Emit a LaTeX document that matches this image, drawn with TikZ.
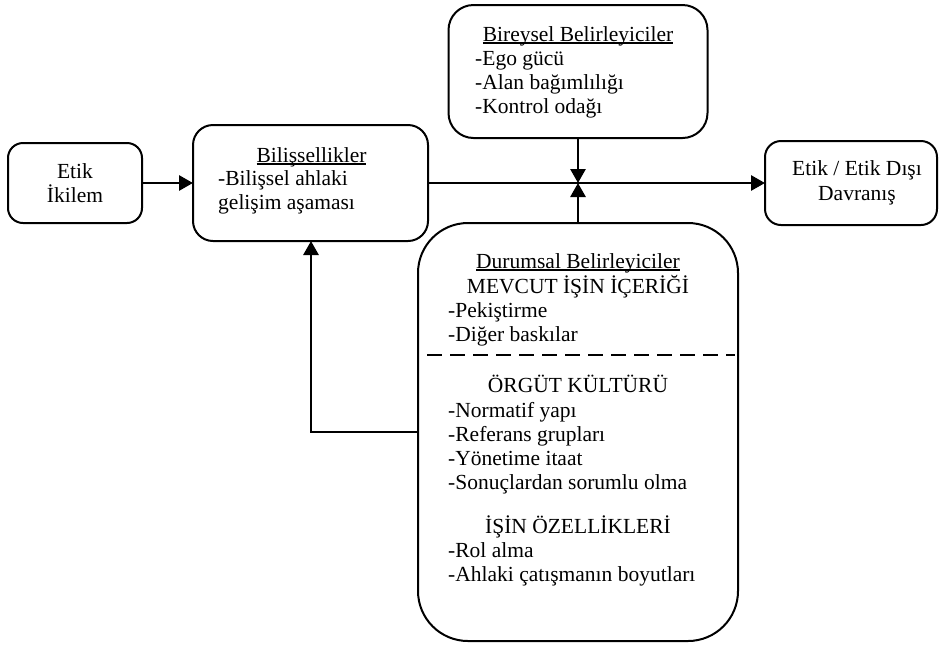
\documentclass[tikz,border=0pt]{standalone}
\usepackage{fontspec}
\setmainfont{Liberation Serif}
\usetikzlibrary{arrows.meta}

% underline sitting just below the baseline
\newcommand{\hdline}[1]{\setbox0\hbox{#1}\rlap{\rule[-2.6pt]{\wd0}{1.3pt}}\box0}

\tikzset{
  box/.style={draw, line width=2pt, outer sep=0pt, inner sep=0pt},
  conn/.style={line width=2.8pt, -{Triangle[length=14pt,width=15pt]}},
  txt/.style={inner sep=0pt, font=\fontsize{21.5}{25}\selectfont},
  lft/.style={txt, anchor=base west},
  ctr/.style={txt, anchor=base}
}

\begin{document}
\begin{tikzpicture}[x=1pt,y=-1pt]
\useasboundingbox (0,0) rectangle (941,649);

% boxes
\node[box, rounded corners=15pt, minimum width=134pt, minimum height=80pt] (etik) at (75,183) {};
\node[box, rounded corners=20pt, minimum width=235pt, minimum height=116pt] (bil) at (310.5,183) {};
\node[box, rounded corners=25pt, minimum width=259pt, minimum height=133pt] (bir) at (578,71.5) {};
\node[box, rounded corners=16pt, minimum width=172pt, minimum height=84pt] (out) at (851,183) {};
\node[box, rounded corners=50pt, minimum width=320pt, minimum height=418pt] (dur) at (578,432) {};

% Etik İkilem
\node[ctr] (t1) at (75,178) {Etik};
\node[ctr] (t2) at (75,202) {İkilem};

% Bilişsellikler
\node[ctr] (b1) at (311.5,162) {\hdline{Bilişsellikler}};
\node[lft] (b2) at (218,185) {-Bilişsel ahlaki};
\node[lft] (b3) at (218,209) {gelişim aşaması};

% Bireysel Belirleyiciler
\node[ctr] (r1) at (578,41) {\hdline{Bireysel Belirleyiciler}};
\node[lft] (r2) at (475,65) {-Ego gücü};
\node[lft] (r3) at (475,89) {-Alan bağımlılığı};
\node[lft] (r4) at (475,113) {-Kontrol odağı};

% Etik / Etik Dışı Davranış
\node[ctr] (o1) at (857,175) {Etik / Etik Dışı};
\node[ctr] (o2) at (857,200) {Davranış};

% Durumsal Belirleyiciler
\node[ctr] (d1) at (578,268) {\hdline{Durumsal Belirleyiciler}};
\node[ctr] (d2) at (578,293) {MEVCUT İŞİN İÇERİĞİ};
\node[lft] (d3) at (448,317) {-Pekiştirme};
\node[lft] (d4) at (448,341) {-Diğer baskılar};
\coordinate (dashL) at (427,355);
\coordinate (dashR) at (735,355);
\draw[line width=2.2pt, dash pattern=on 15pt off 8pt] (dashL) -- (dashR);
\node[ctr] (d5) at (578,392) {ÖRGÜT KÜLTÜRÜ};
\node[lft] (d6) at (448,417) {-Normatif yapı};
\node[lft] (d7) at (448,441) {-Referans grupları};
\node[lft] (d8) at (448,465) {-Yönetime itaat};
\node[lft] (d9) at (448,489) {-Sonuçlardan sorumlu olma};
\node[ctr] (d10) at (578,533) {İŞİN ÖZELLİKLERİ};
\node[lft] (d11) at (448,557) {-Rol alma};
\node[lft] (d12) at (448,581) {-Ahlaki çatışmanın boyutları};

% connectors
\coordinate (j) at (578,183);
\coordinate (fb) at (311,432);
\draw[conn] (etik.east) -- (bil.west);
\draw[conn] (bil.east) -- (out.west);
\draw[conn] (bir.south) -- (j);
\draw[conn] (dur.north) -- (j);
\draw[conn] (dur.west) -- (fb) -- (fb |- bil.south);
\end{tikzpicture}
\end{document}
